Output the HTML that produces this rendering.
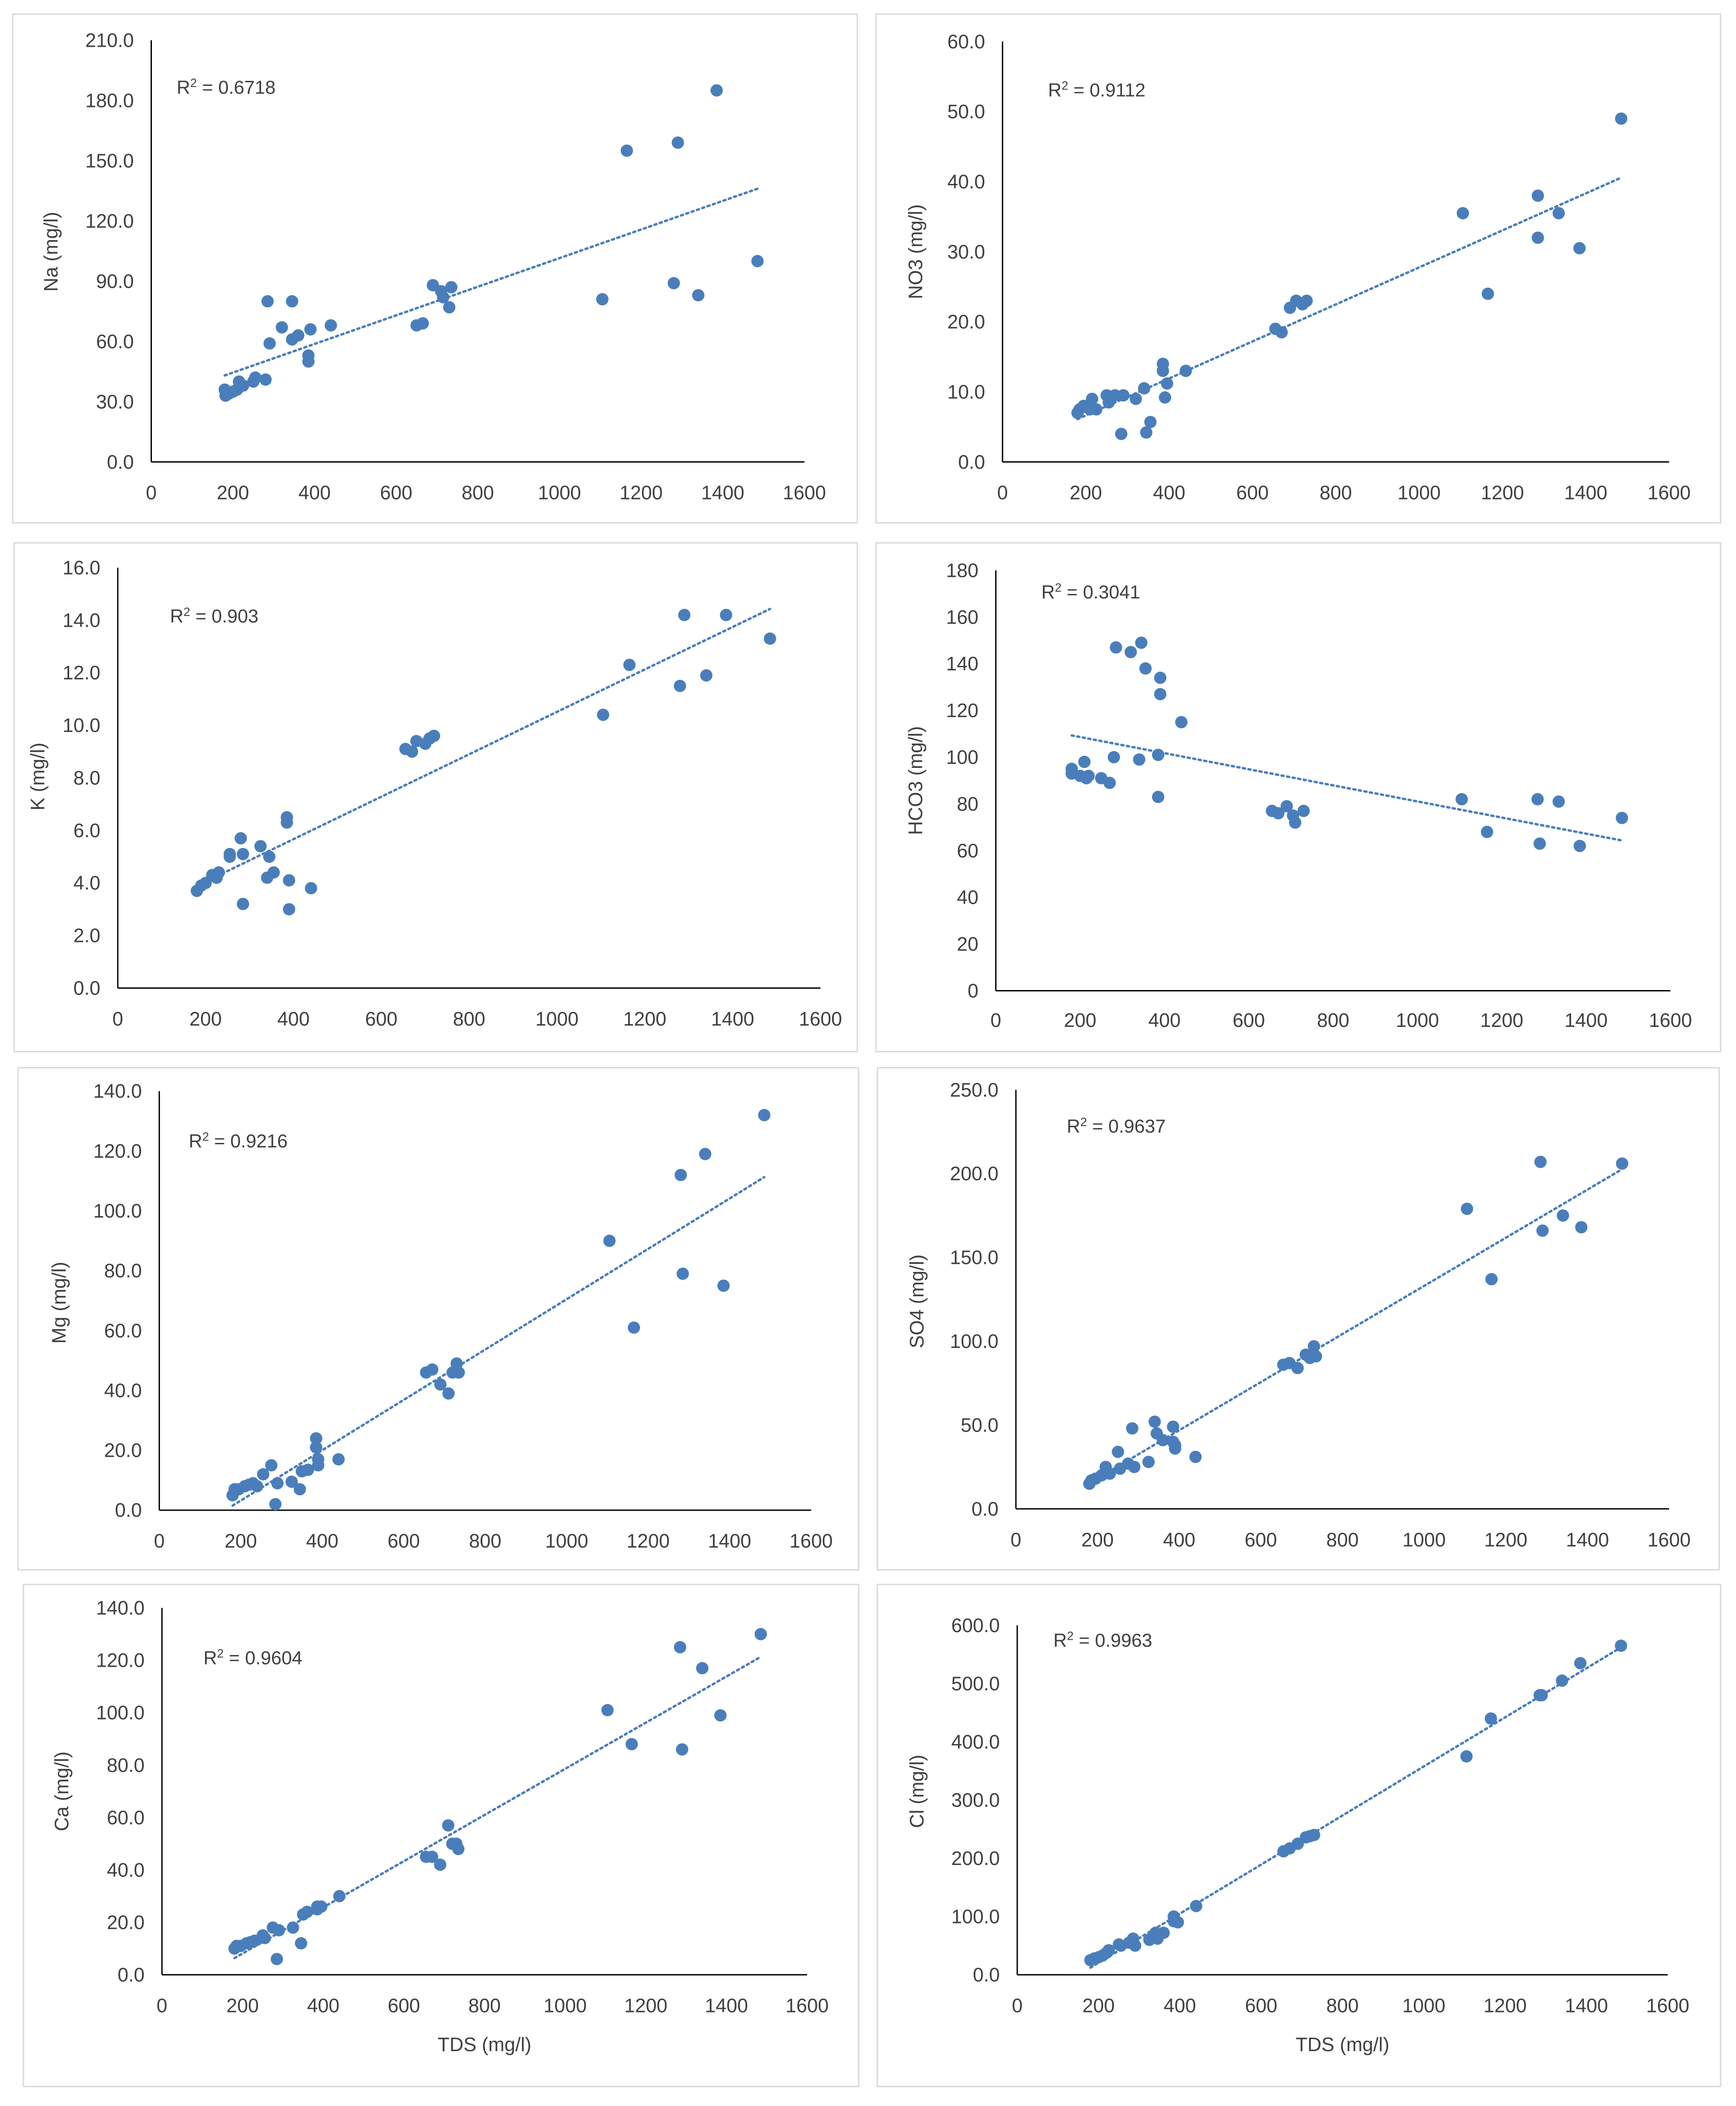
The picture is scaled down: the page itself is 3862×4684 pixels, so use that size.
<!DOCTYPE html>
<html><head><meta charset="utf-8">
<style>
html,body{margin:0;padding:0;background:#fff;}
svg{display:block;}
text{font-family:"Liberation Sans",sans-serif;fill:#404040;}
</style></head>
<body>
<svg id="fig" xmlns="http://www.w3.org/2000/svg" width="3862" height="4684" viewBox="0 0 1297 1573"></svg>
<script>
// ---- data (TDS in mg/l, ion concentration in mg/l) ----
const naTds = [180,182,190,200,210,215,225,250,255,280,285,290,320,345,345,360,385,385,390,440,650,665,690,710,715,730,735,1105,1165,1280,1290,1340,1385,1485];
const naVal = [36,33,34,35,36,40,38,40,42,41,80,59,67,80,61,63,50,53,66,68,68,69,88,85,82,77,87,81,155,89,159,83,185,100];
const no3Tds = [180,185,195,210,215,225,250,255,270,285,290,320,340,345,355,385,385,390,395,440,655,670,690,705,720,730,1105,1165,1285,1285,1335,1385,1485];
const no3Val = [7,7.5,8,7.5,9,7.5,9.5,8.5,9.5,4,9.5,9,10.5,4.2,5.7,14,13,9.2,11.2,13,19,18.5,22,23,22.5,23,35.5,24,38,32,35.5,30.5,49];
const kTds = [180,190,200,215,225,230,255,255,280,285,285,325,340,345,355,385,385,390,390,440,655,670,680,700,710,720,1105,1165,1280,1290,1340,1385,1485];
const kVal = [3.7,3.9,4,4.3,4.2,4.4,5,5.1,5.7,3.2,5.1,5.4,4.2,5,4.4,6.5,6.3,4.1,3,3.8,9.1,9,9.4,9.3,9.5,9.6,10.4,12.3,11.5,14.2,11.9,14.2,13.3];
const hco3Tds = [180,180,200,210,215,220,250,270,280,285,320,340,345,355,385,385,390,390,440,655,670,690,705,710,730,1105,1165,1285,1290,1335,1385,1485];
const hco3Val = [95,93,92,98,91,92,91,89,100,147,145,99,149,138,101,83,127,134,115,77,76,79,75,72,77,82,68,82,63,81,62,74];
const mgTds = [180,185,195,210,220,230,240,255,275,285,290,325,345,350,365,385,385,390,390,440,655,670,690,710,720,730,735,1105,1165,1280,1285,1340,1385,1485];
const mgVal = [5,7,7,8,8.5,9,8,12,15,2,9,9.5,7,13,13.5,24,21,15,17,17,46,47,42,39,46,49,46,90,61,112,79,119,75,132];
const so4Tds = [180,185,195,210,220,230,250,255,275,285,290,325,340,345,360,385,385,390,390,440,655,670,690,710,720,730,735,1105,1165,1285,1290,1340,1385,1485];
const so4Val = [15,17,18,20,25,21,34,24,27,48,25,28,52,45,41,49,40,36,38,31,86,87,84,92,90,97,91,179,137,207,166,175,168,206];
const caTds = [180,185,195,210,220,230,250,255,275,285,290,325,345,350,360,385,385,395,440,655,670,690,710,720,730,735,1105,1165,1285,1290,1340,1385,1485];
const caVal = [10,11,11,12,12.5,13,15,14,18,6,17,18,12,23,24,25,26,26,30,45,45,42,57,50,50,48,101,88,125,86,117,99,130];
const clTds = [180,190,200,210,220,225,250,255,275,285,290,325,340,345,360,385,385,395,440,655,670,690,710,720,730,1105,1165,1285,1290,1340,1385,1485];
const clVal = [25,28,30,33,38,42,52,50,55,62,50,60,72,62,72,100,92,90,118,212,217,225,236,238,240,375,440,480,480,505,535,565];
const xTicks = [0,200,400,600,800,1000,1200,1400,1600];
const r2Labels = ["0.6718","0.9112","0.903","0.3041","0.9216","0.9637","0.9604","0.9963"];

const NS="http://www.w3.org/2000/svg";
const svg=document.getElementById('fig');
function mk(tag,attrs,parent){const e=document.createElementNS(NS,tag);for(const k in attrs)e.setAttribute(k,attrs[k]);(parent||svg).appendChild(e);return e;}

const panels=[
 {id:'na',label:'Na (mg/l)',tds:naTds,val:naVal,box:[9,10,631,380],x0:113,x1:601,y0:345,yt:30,ymax:210,step:30,dp:1,r2:[132,70],r2i:0,yl:[43,188],xtl:373,xt:false},
 {id:'no3',label:'NO3 (mg/l)',tds:no3Tds,val:no3Val,box:[654,10,631,380],x0:749,x1:1247,y0:345,yt:31,ymax:60,step:10,dp:1,r2:[783,72],r2i:1,yl:[689,188],xtl:373,xt:false},
 {id:'k',label:'K (mg/l)',tds:kTds,val:kVal,box:[10,405,630,380],x0:88,x1:613,y0:738,yt:424,ymax:16,step:2,dp:1,r2:[127,465],r2i:2,yl:[33,580],xtl:766,xt:false},
 {id:'hco3',label:'HCO3 (mg/l)',tds:hco3Tds,val:hco3Val,box:[654,405,631,380],x0:744,x1:1248,y0:740,yt:426,ymax:180,step:20,dp:0,r2:[778,447],r2i:3,yl:[689,583],xtl:767,xt:false},
 {id:'mg',label:'Mg (mg/l)',tds:mgTds,val:mgVal,box:[13,797,628,375],x0:119,x1:606,y0:1128,yt:815,ymax:140,step:20,dp:1,r2:[141,857],r2i:4,yl:[49,973],xtl:1156,xt:false},
 {id:'so4',label:'SO4 (mg/l)',tds:so4Tds,val:so4Val,box:[655,797,629,375],x0:759,x1:1247,y0:1127,yt:814,ymax:250,step:50,dp:1,r2:[797,846],r2i:5,yl:[690,972],xtl:1155,xt:false},
 {id:'ca',label:'Ca (mg/l)',tds:caTds,val:caVal,box:[17,1183,624,375],x0:121,x1:603,y0:1475,yt:1201,ymax:140,step:20,dp:1,r2:[152,1243],r2i:6,yl:[51,1338],xtl:1503,xt:true},
 {id:'cl',label:'Cl (mg/l)',tds:clTds,val:clVal,box:[655,1183,630,375],x0:760,x1:1246,y0:1475,yt:1214,ymax:600,step:100,dp:1,r2:[787,1230],r2i:7,yl:[690,1338],xtl:1503,xt:true}
];
const BLUE='#4a7ebb';
mk('rect',{x:0,y:0,width:1297,height:1573,fill:'#fff'});
panels.forEach(p=>{
  const g=mk('g',{});
  
  
  const fr=mk('rect',{x:p.box[0]+0.5,y:p.box[1]+0.5,width:p.box[2],height:p.box[3],fill:'#fff',stroke:'#d9d9d9','stroke-width':1},g);
  
  
  const sx=v=>p.x0+(p.x1-p.x0)*v/1600;
  const sy=v=>p.y0-(p.y0-p.yt)*v/p.ymax;
  // axes
  const ya=mk('line',{x1:p.x0,y1:p.yt,x2:p.x0,y2:p.y0,stroke:'#000','stroke-width':1},g);
  
  
  const xa=mk('line',{x1:p.x0,y1:p.y0,x2:p.x1,y2:p.y0,stroke:'#000','stroke-width':1},g);
  
  
  // y ticks
  for(let v=0;v<=p.ymax+1e-9;v+=p.step){
    const t=mk('text',{x:p.x0-13,y:sy(v)+5,'font-size':14.5,'text-anchor':'end'},g);
    t.textContent=v.toFixed(p.dp);
    
    
  }
  xTicks.forEach(v=>{
    const t=mk('text',{x:sx(v),y:p.xtl,'font-size':14.5,'text-anchor':'middle'},g);
    t.textContent=String(v);
    
    
  });
  const yl=mk('text',{x:p.yl[0],y:p.yl[1],'font-size':14.5,'text-anchor':'middle',transform:`rotate(-90 ${p.yl[0]} ${p.yl[1]})`},g);
  yl.textContent=p.label;
  
  
  if(p.xt){
    const xl=mk('text',{x:(p.x0+p.x1)/2,y:p.xtl+29,'font-size':14.5,'text-anchor':'middle'},g);
    xl.textContent='TDS (mg/l)';
    
    
  }
  const r=mk('text',{x:p.r2[0],y:p.r2[1],'font-size':14,fill:'#000'},g);
  r.innerHTML='R<tspan dy="-5" font-size="9">2</tspan><tspan dy="5"> = '+r2Labels[p.r2i]+'</tspan>';
  
  
  // points
  p.tds.forEach((t,i)=>{
    const c=mk('circle',{cx:sx(t),cy:sy(p.val[i]),r:4.6,fill:BLUE},g);
    
    
  });
  // linear trendline
  const n=p.tds.length;let mx=0,my=0;
  for(let i=0;i<n;i++){mx+=p.tds[i];my+=p.val[i];}
  mx/=n;my/=n;let sxy=0,sxx=0;
  for(let i=0;i<n;i++){sxy+=(p.tds[i]-mx)*(p.val[i]-my);sxx+=(p.tds[i]-mx)**2;}
  const b=sxy/sxx,a=my-b*mx;
  const xmin=Math.min(...p.tds),xmax=Math.max(...p.tds);
  const tl=mk('line',{x1:sx(xmin),y1:sy(a+b*xmin),x2:sx(xmax),y2:sy(a+b*xmax),stroke:BLUE,'stroke-width':1.8,'stroke-dasharray':'1.6 2.6','stroke-linecap':'round'},g);
  
  
});
</script>
</body></html>
